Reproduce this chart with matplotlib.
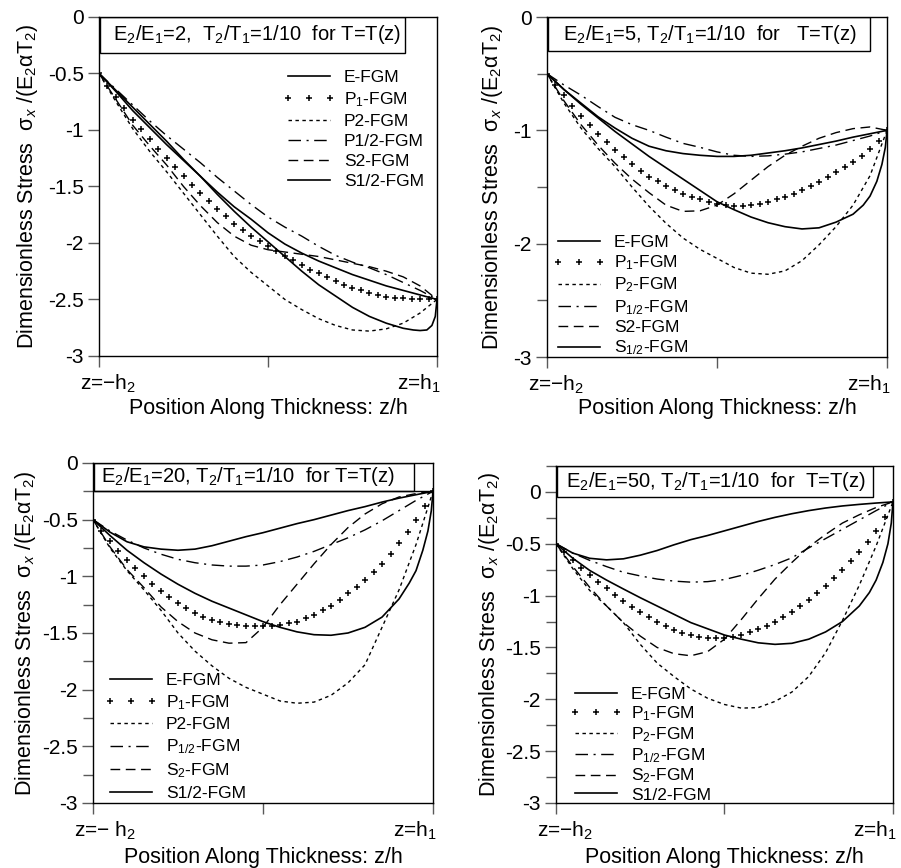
"""
Four panels: dimensionless thermal stress through the thickness of FGM
layers for E2/E1 = 2, 5, 20, 50 (T2/T1 = 1/10, T = T(z)).
"""
import matplotlib
matplotlib.use("Agg")
import matplotlib.pyplot as plt
from matplotlib.patches import Rectangle
from matplotlib.transforms import ScaledTranslation
from matplotlib.ticker import MultipleLocator, FormatStrFormatter

plt.rcParams['font.family'] = ['Liberation Sans', 'DejaVu Sans']
plt.rcParams['mathtext.fontset'] = 'custom'
plt.rcParams['mathtext.rm'] = 'Liberation Sans'
plt.rcParams['mathtext.it'] = 'Liberation Sans:italic'
plt.rcParams['axes.unicode_minus'] = False

# positions along thickness (0 = z=-h2, 1 = z=h1)
X_LINE = [0, 0.05, 0.1, 0.15, 0.2, 0.25, 0.3, 0.35, 0.4, 0.45, 0.5,
          0.55, 0.6, 0.65, 0.7, 0.75, 0.8, 0.85, 0.9, 0.95, 1.0]
X_PLUS = [0, 0.025, 0.05, 0.075, 0.1, 0.125, 0.15, 0.175, 0.2, 0.225, 0.25,
          0.275, 0.3, 0.325, 0.35, 0.375, 0.4, 0.425, 0.45, 0.475, 0.5,
          0.525, 0.55, 0.575, 0.6, 0.625, 0.65, 0.675, 0.7, 0.725, 0.75,
          0.775, 0.8, 0.825, 0.85, 0.875, 0.9, 0.925, 0.95, 0.975, 1.0]
X_S12 = [0, 0.05, 0.1, 0.15, 0.2, 0.25, 0.3, 0.35, 0.4, 0.45, 0.5,
         0.55, 0.6, 0.65, 0.7, 0.75, 0.8, 0.85, 0.9, 0.93, 0.95, 0.97,
         0.985, 0.995, 1.0]

# ---- E2/E1 = 2 ----
E_2 = [-0.5, -0.66, -0.83, -0.98, -1.13, -1.27, -1.41, -1.55, -1.68, -1.79, -1.91,
       -2.01, -2.09, -2.16, -2.22, -2.28, -2.33, -2.38, -2.42, -2.46, -2.5]
P1_2 = [-0.5, -0.61, -0.71, -0.81, -0.91, -0.995, -1.08, -1.165, -1.25, -1.33, -1.41,
        -1.485, -1.56, -1.63, -1.70, -1.765, -1.83, -1.885, -1.935, -1.985, -2.03,
        -2.075, -2.115, -2.155, -2.195, -2.235, -2.27, -2.305, -2.34, -2.37, -2.395,
        -2.42, -2.445, -2.46, -2.475, -2.485, -2.49, -2.495, -2.498, -2.5, -2.5]
P2_2 = [-0.5, -0.75, -0.99, -1.19, -1.37, -1.56, -1.75, -1.94, -2.12, -2.26, -2.38,
        -2.5, -2.59, -2.67, -2.73, -2.77, -2.78, -2.76, -2.71, -2.62, -2.5]
P12_2 = [-0.5, -0.64, -0.78, -0.92, -1.05, -1.17, -1.29, -1.42, -1.54, -1.66, -1.77,
         -1.86, -1.94, -2.03, -2.11, -2.17, -2.22, -2.28, -2.35, -2.42, -2.5]
S2_2 = [-0.5, -0.73, -0.96, -1.14, -1.31, -1.5, -1.67, -1.82, -1.94, -2.02, -2.06,
        -2.08, -2.1, -2.12, -2.15, -2.18, -2.21, -2.25, -2.3, -2.38, -2.5]
S12_2 = [-0.5, -0.65, -0.8, -0.95, -1.1, -1.26, -1.41, -1.57, -1.72, -1.86, -1.99,
         -2.12, -2.25, -2.37, -2.47, -2.57, -2.65, -2.71, -2.755, -2.77, -2.775, -2.77,
         -2.73, -2.65, -2.5]

# ---- E2/E1 = 5 ----
E_5 = [-0.5, -0.64, -0.76, -0.88, -0.98, -1.07, -1.14, -1.18, -1.205, -1.22, -1.23,
       -1.23, -1.22, -1.2, -1.18, -1.155, -1.125, -1.095, -1.06, -1.03, -1.0]
P1_5 = [-0.5, -0.60, -0.69, -0.785, -0.873, -0.95, -1.03, -1.10, -1.17, -1.235, -1.295,
        -1.355, -1.41, -1.45, -1.49, -1.53, -1.56, -1.585, -1.61, -1.63, -1.65,
        -1.66, -1.67, -1.67, -1.66, -1.65, -1.63, -1.61, -1.59, -1.56, -1.53,
        -1.495, -1.46, -1.415, -1.37, -1.325, -1.28, -1.225, -1.165, -1.09, -1.0]
P2_5 = [-0.5, -0.76, -0.98, -1.16, -1.32, -1.5, -1.67, -1.82, -1.95, -2.05, -2.13,
        -2.21, -2.26, -2.27, -2.24, -2.15, -2.01, -1.85, -1.66, -1.4, -1.0]
P12_5 = [-0.5, -0.6, -0.69, -0.79, -0.885, -0.95, -1.0, -1.06, -1.115, -1.15, -1.19,
         -1.22, -1.23, -1.225, -1.21, -1.19, -1.16, -1.13, -1.09, -1.05, -1.0]
S2_5 = [-0.5, -0.74, -0.95, -1.13, -1.29, -1.43, -1.55, -1.66, -1.715, -1.71, -1.66,
        -1.56, -1.44, -1.32, -1.22, -1.14, -1.07, -1.02, -0.985, -0.97, -1.0]
S12_5 = [-0.5, -0.64, -0.77, -0.89, -1.01, -1.12, -1.23, -1.33, -1.43, -1.53, -1.63,
         -1.70, -1.765, -1.815, -1.85, -1.87, -1.86, -1.81, -1.74, -1.66, -1.58, -1.45,
         -1.3, -1.15, -1.0]

# ---- E2/E1 = 20 ----
E_20 = [-0.5, -0.61, -0.695, -0.74, -0.76, -0.77, -0.76, -0.73, -0.69, -0.65, -0.615,
        -0.575, -0.535, -0.5, -0.46, -0.42, -0.385, -0.345, -0.31, -0.28, -0.25]
P1_20 = [-0.5, -0.6, -0.69, -0.775, -0.856, -0.93, -1.0, -1.065, -1.13, -1.185, -1.235,
         -1.28, -1.32, -1.355, -1.385, -1.405, -1.42, -1.43, -1.437, -1.44, -1.44,
         -1.437, -1.43, -1.415, -1.4, -1.37, -1.34, -1.30, -1.26, -1.21, -1.15,
         -1.09, -1.03, -0.96, -0.89, -0.8, -0.71, -0.61, -0.5, -0.38, -0.25]
P2_20 = [-0.5, -0.75, -0.95, -1.12, -1.3, -1.5, -1.66, -1.79, -1.9, -1.98, -2.04,
         -2.1, -2.12, -2.11, -2.05, -1.94, -1.78, -1.45, -1.12, -0.72, -0.25]
P12_20 = [-0.5, -0.6, -0.68, -0.75, -0.805, -0.85, -0.88, -0.9, -0.91, -0.91, -0.9,
          -0.87, -0.83, -0.78, -0.72, -0.66, -0.59, -0.51, -0.42, -0.33, -0.25]
S2_20 = [-0.5, -0.74, -0.94, -1.1, -1.27, -1.4, -1.5, -1.56, -1.59, -1.585, -1.45,
         -1.25, -1.07, -0.89, -0.72, -0.57, -0.45, -0.36, -0.3, -0.27, -0.25]
S12_20 = [-0.5, -0.64, -0.77, -0.88, -0.98, -1.07, -1.15, -1.22, -1.28, -1.34, -1.40,
          -1.45, -1.49, -1.515, -1.52, -1.5, -1.45, -1.36, -1.2, -1.06, -0.95, -0.77,
          -0.6, -0.42, -0.25]

# ---- E2/E1 = 50 ----
E_50 = [-0.5, -0.59, -0.64, -0.655, -0.645, -0.61, -0.565, -0.51, -0.46, -0.42, -0.375,
        -0.33, -0.285, -0.245, -0.21, -0.18, -0.155, -0.135, -0.12, -0.107, -0.096]
P1_50 = [-0.5, -0.58, -0.655, -0.73, -0.8, -0.865, -0.93, -0.99, -1.05, -1.105, -1.16,
         -1.21, -1.255, -1.295, -1.33, -1.36, -1.38, -1.395, -1.405, -1.41, -1.405,
         -1.395, -1.38, -1.355, -1.325, -1.29, -1.25, -1.205, -1.155, -1.1, -1.04,
         -0.975, -0.905, -0.83, -0.75, -0.665, -0.575, -0.48, -0.38, -0.245, -0.096]
P2_50 = [-0.5, -0.74, -0.95, -1.1, -1.26, -1.47, -1.65, -1.78, -1.9, -1.99, -2.05,
         -2.085, -2.08, -2.02, -1.93, -1.78, -1.55, -1.24, -0.9, -0.52, -0.096]
P12_50 = [-0.5, -0.59, -0.66, -0.72, -0.775, -0.81, -0.84, -0.86, -0.87, -0.865, -0.845,
          -0.805, -0.755, -0.7, -0.635, -0.54, -0.45, -0.36, -0.27, -0.18, -0.096]
S2_50 = [-0.5, -0.72, -0.92, -1.1, -1.26, -1.39, -1.5, -1.56, -1.58, -1.54, -1.42,
         -1.23, -1.03, -0.84, -0.68, -0.53, -0.41, -0.3, -0.22, -0.15, -0.096]
S12_50 = [-0.5, -0.64, -0.757, -0.85, -0.936, -1.02, -1.1, -1.18, -1.26, -1.32, -1.38,
          -1.42, -1.455, -1.47, -1.46, -1.42, -1.35, -1.25, -1.1, -0.97, -0.85, -0.68,
          -0.5, -0.3, -0.096]

TITLES = ["E$_2$/E$_1$=2,  T$_2$/T$_1$=1/10  for T=T(z)",
          "E$_2$/E$_1$=5, T$_2$/T$_1$=1/10  for   T=T(z)",
          "E$_2$/E$_1$=20, T$_2$/T$_1$=1/10  for T=T(z)",
          "E$_2$/E$_1$=50, T$_2$/T$_1$=1/10  for  T=T(z)"]
LEGENDS = [["E-FGM", "P$_1$-FGM", "P2-FGM", "P1/2-FGM", "S2-FGM", "S1/2-FGM"],
           ["E-FGM", "P$_1$-FGM", "P$_2$-FGM", "P$_{1/2}$-FGM", "S2-FGM", "S$_{1/2}$-FGM"],
           ["E-FGM", "P$_1$-FGM", "P2-FGM", "P$_{1/2}$-FGM", "S$_2$-FGM", "S1/2-FGM"],
           ["E-FGM", "P$_1$-FGM", "P$_2$-FGM", "P$_{1/2}$-FGM", "S$_2$-FGM", "S1/2-FGM"]]
XTICK_LEFT = ["z=\u2212h$_2$", "z=\u2212h$_2$", "z=\u2212 h$_2$", "z=\u2212h$_2$"]

panels = [
    dict(data=(E_2, P1_2, P2_2, P12_2, S2_2, S12_2), rect=[0.1099, 0.5899, 0.3751, 0.3906],
         ylim=(-3, 0), major=0.5, minor=None, box=(0.003, 0.894, 0.902, 0.106), tx=0.467,
         leg=(283, 70), lsp=0.28, ylx=-0.174, xly=-0.124, fullline=False),
    dict(data=(E_5, P1_5, P2_5, P12_5, S2_5, S12_5), rect=[0.6071, 0.5887, 0.3774, 0.3917],
         ylim=(-3, 0), major=1.0, minor=0.5, box=(0.003, 0.9, 0.947, 0.1), tx=0.479,
         leg=(553, 235), lsp=0.2, ylx=-0.123, xly=-0.121, fullline=False),
    dict(data=(E_20, P1_20, P2_20, P12_20, S2_20, S12_20), rect=[0.1032, 0.0749, 0.3774, 0.3917],
         ylim=(-3, 0), major=0.5, minor=0.25, box=(0.003, 0.918, 0.941, 0.082), tx=0.456,
         leg=(105, 673), lsp=0.3, ylx=-0.161, xly=-0.129, fullline=True),
    dict(data=(E_50, P1_50, P2_50, P12_50, S2_50, S12_50), rect=[0.6171, 0.0749, 0.3740, 0.3882],
         ylim=(-3, 0.25), major=0.5, minor=0.25, box=(0.003, 0.908, 0.937, 0.092), tx=0.475,
         leg=(570, 687), lsp=0.12, ylx=-0.16, xly=-0.13, fullline=False),
]

W, H = 901, 868
fig = plt.figure(figsize=(W / 100, H / 100), dpi=100)

for i, p in enumerate(panels):
    ax = fig.add_axes(p["rect"])
    e, p1, p2, p12, s2, s12 = p["data"]
    h_e, = ax.plot(X_LINE, e, color="k", lw=1.2)
    h_p1, = ax.plot(X_PLUS, p1, ls="none", marker="+", ms=5, mew=1.1, color="k")
    h_p2, = ax.plot(X_LINE, p2, color="k", lw=1.0, ls=(0, (2.5, 2.5)))
    h_p12, = ax.plot(X_LINE, p12, color="k", lw=1.0, ls=(0, (9, 4, 1.5, 4)))
    h_s2, = ax.plot(X_LINE, s2, color="k", lw=1.0, ls=(0, (7, 4)))
    h_s12, = ax.plot(X_S12, s12, color="k", lw=1.2)

    ax.set_xlim(0, 1)
    ax.yaxis.set_major_locator(MultipleLocator(p["major"]))
    if p["minor"]:
        ax.yaxis.set_minor_locator(MultipleLocator(p["minor"]))
    ax.yaxis.set_major_formatter(FormatStrFormatter("%g"))
    ax.set_ylim(*p["ylim"])

    ax.tick_params(axis="both", which="major", direction="out", length=8, width=1,
                   color="0.35", labelsize=15)
    ax.tick_params(axis="y", which="minor", direction="out", length=7, width=1, color="0.35")
    ax.tick_params(axis="y", pad=3)
    ax.tick_params(axis="x", pad=4)

    ax.set_xticks([0, 0.5, 1])
    ax.set_xticklabels([XTICK_LEFT[i], "", "z=h$_1$"])
    labs = ax.get_xticklabels()
    labs[0].set_ha("left")
    labs[0].set_transform(labs[0].get_transform() + ScaledTranslation(-19 / 100, 0, fig.dpi_scale_trans))
    labs[2].set_ha("right")
    labs[2].set_transform(labs[2].get_transform() + ScaledTranslation(4 / 100, 0, fig.dpi_scale_trans))

    for sp in ax.spines.values():
        sp.set_linewidth(1.0)

    ax.set_ylabel("Dimensionless Stress  \u03c3$_x$ /(E$_2$\u03b1T$_2$)", fontsize=15.5)
    ax.yaxis.set_label_coords(p["ylx"], 0.5)
    ax.set_xlabel("Position Along Thickness: z/h", fontsize=15.5)
    ax.xaxis.set_label_coords(0.5, p["xly"])

    bx, by, bw, bh = p["box"]
    ax.add_patch(Rectangle((bx, by), bw, bh, transform=ax.transAxes, fill=False,
                           edgecolor="k", lw=1.0, zorder=5))
    if p["fullline"]:
        ax.plot([0, 1], [by, by], transform=ax.transAxes, color="k", lw=1.0)
    ax.text(p["tx"], by + bh / 2, TITLES[i], transform=ax.transAxes, ha="center",
            va="center", fontsize=14.5)

    lx, ly = p["leg"]
    ax.legend([h_e, h_p1, h_p2, h_p12, h_s2, h_s12], LEGENDS[i], loc="upper left",
              bbox_to_anchor=(lx / W, 1 - ly / H), bbox_transform=fig.transFigure,
              frameon=False, numpoints=3, handlelength=3.0, handletextpad=0.5,
              labelspacing=p["lsp"], borderpad=0, borderaxespad=0, fontsize=12.5)

fig.savefig("out.png", dpi=100)
